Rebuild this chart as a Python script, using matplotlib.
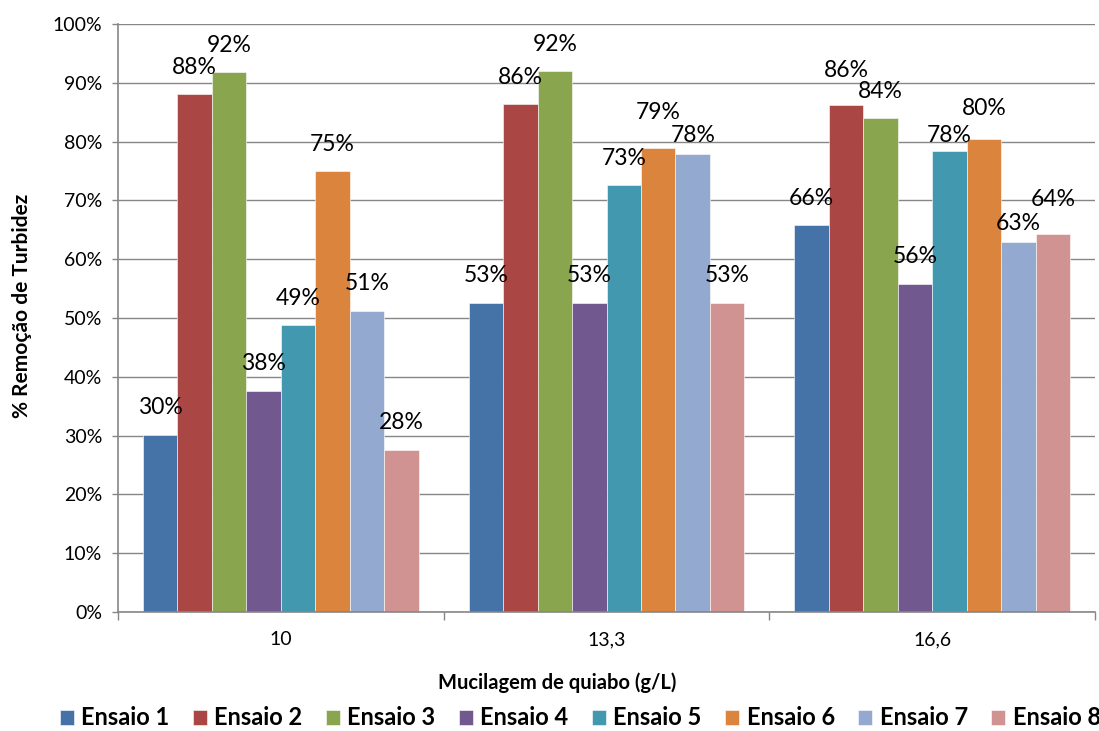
import matplotlib
matplotlib.use("Agg")
from matplotlib import pyplot as plt
from matplotlib.ticker import PercentFormatter, MultipleLocator, FixedLocator
import numpy as np

# data
categories = ['10', '13,3', '16,6']
series = ['Ensaio 1', 'Ensaio 2', 'Ensaio 3', 'Ensaio 4',
          'Ensaio 5', 'Ensaio 6', 'Ensaio 7', 'Ensaio 8']
ensaio_1 = [0.301, 0.526, 0.658]
ensaio_2 = [0.881, 0.864, 0.862]
ensaio_3 = [0.918, 0.920, 0.840]
ensaio_4 = [0.376, 0.526, 0.558]
ensaio_5 = [0.488, 0.726, 0.784]
ensaio_6 = [0.750, 0.789, 0.804]
ensaio_7 = [0.512, 0.779, 0.629]
ensaio_8 = [0.276, 0.526, 0.643]
values = [ensaio_1, ensaio_2, ensaio_3, ensaio_4,
          ensaio_5, ensaio_6, ensaio_7, ensaio_8]
colors = ['#4572A7', '#AA4643', '#89A54E', '#71588F',
          '#4198AF', '#DB843D', '#93A9CF', '#D19392']

# labels that were nudged by hand in the original (group, series) -> px above bar top
label_nudge = {(1, 5): 36, (1, 6): 19, (2, 1): 35, (2, 4): 16,
               (2, 5): 31, (2, 6): 19, (2, 7): 34}

plt.rcParams['font.family'] = ['Lato', 'DejaVu Sans']

fig = plt.figure(figsize=(10.99, 7.31), dpi=100)
ax = fig.add_axes([0.1074, 0.163, 0.889, 0.804])

x = np.arange(len(categories))
n = len(series)
group_w = 0.847
w = group_w / n
for i, (name, vals, c) in enumerate(zip(series, values, colors)):
    pos = x - group_w / 2 + w * (i + 0.5)
    ax.bar(pos, vals, width=w, color=c, edgecolor='#ffffff', linewidth=0.4,
           label=name, zorder=2)
    for g, (px, v) in enumerate(zip(pos, vals)):
        off = label_nudge.get((g, i), 27) * 0.72  # px -> points
        ax.annotate(f"{round(v * 100):.0f}%", (px, v), xytext=(0, off),
                    textcoords='offset points', ha='center', va='center',
                    fontsize=16.5, color='black', zorder=5)

ax.set_xlim(-0.5, len(categories) - 0.5)
ax.set_ylim(0, 1.0)
ax.yaxis.set_major_locator(MultipleLocator(0.1))
ax.yaxis.set_major_formatter(PercentFormatter(1.0, decimals=0))
ax.yaxis.grid(True, color='#868686', linewidth=1.0, zorder=0)
ax.set_axisbelow(True)

# category labels without marks, marks on the boundaries
ax.set_xticks(x)
ax.set_xticklabels(categories, fontsize=14)
ax.tick_params(axis='x', length=0, pad=14)
ax.xaxis.set_minor_locator(FixedLocator(np.arange(-0.5, len(categories), 1.0)))
ax.tick_params(axis='x', which='minor', length=6, color='#868686', width=1)
ax.tick_params(axis='y', labelsize=14, length=4.5, color='#868686', width=1, pad=7)

for s in ['top', 'right']:
    ax.spines[s].set_visible(False)
for s in ['left', 'bottom']:
    ax.spines[s].set_color('#868686')
    ax.spines[s].set_linewidth(1.2)

fig.text(0.507, 0.066, 'Mucilagem de quiabo (g/L)', fontsize=14.5,
         fontweight='bold', ha='center', va='center')
fig.text(0.020, 0.581, '% Remoção de Turbidez', fontsize=15, fontweight='bold',
         ha='center', va='center', rotation=90)

fig.legend(loc='center', bbox_to_anchor=(0.528, 0.018), ncol=8, frameon=False,
           prop={'size': 17, 'weight': 'bold'}, handlelength=0.6,
           handleheight=0.6, handletextpad=0.3, columnspacing=1.0,
           borderaxespad=0, borderpad=0)

fig.savefig('out.png', dpi=100)
